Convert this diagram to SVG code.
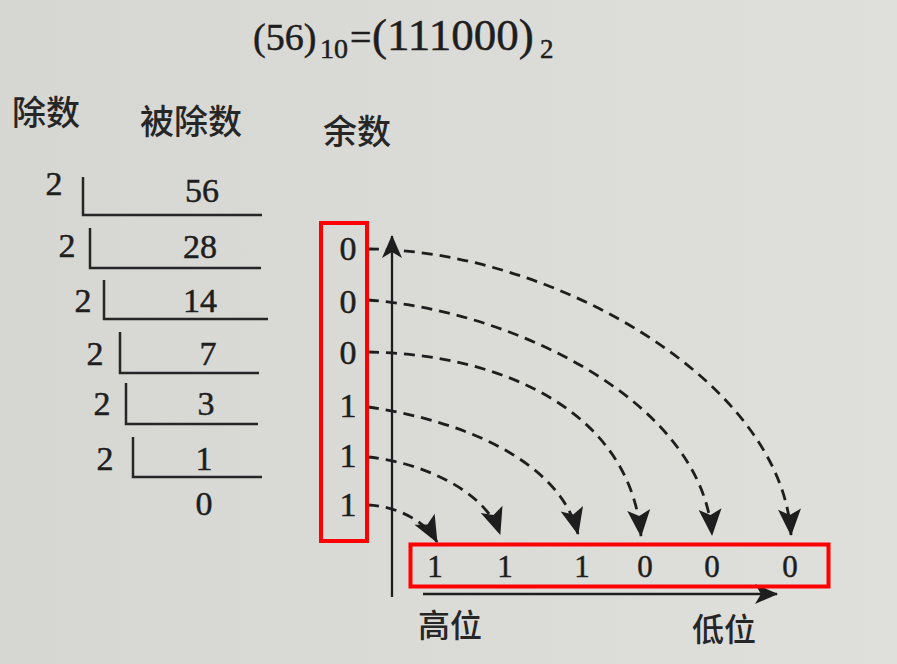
<svg xmlns="http://www.w3.org/2000/svg" width="897" height="664" viewBox="0 0 897 664">
<defs>
<linearGradient id="paper" x1="0" y1="0" x2="1" y2="0">
<stop offset="0" stop-color="#d6d6d2"/>
<stop offset="1" stop-color="#dfdfdb"/>
</linearGradient>
<marker id="barb" viewBox="-30 -14 32 28" refX="0" refY="0" markerWidth="32" markerHeight="28" markerUnits="userSpaceOnUse" orient="auto">
<path d="M1,0 L-26,-11.5 L-20,0 L-26,11.5 Z" fill="#1e1e1e"/>
</marker>
<marker id="axis" viewBox="-26 -12 28 24" refX="0" refY="0" markerWidth="28" markerHeight="24" markerUnits="userSpaceOnUse" orient="auto">
<path d="M1,0 L-22,-10 L-16,0 L-22,10 Z" fill="#1e1e1e"/>
</marker>
</defs>
<style>
.num{font-family:"Liberation Serif","Times New Roman",serif;fill:#1e1e1e;stroke:#1e1e1e;stroke-width:0.5;}
.cjk{font-family:"Noto Sans CJK SC","Noto Sans",sans-serif;fill:#262626;font-weight:500;}
.d{font-size:34px;text-anchor:middle;}
.br{fill:none;stroke:#262626;stroke-width:2.5;}
.dash{fill:none;stroke:#1e1e1e;stroke-width:2.8;stroke-dasharray:11 7;marker-end:url(#barb);}
.ax{fill:none;stroke:#1e1e1e;stroke-width:2.3;marker-end:url(#axis);}
.red{fill:none;stroke:#ff0000;stroke-width:4;}
</style>
<rect x="0" y="0" width="897" height="664" fill="url(#paper)"/>

<g id="title" class="num">
<text x="253" y="50" font-size="38">(56)</text>
<text x="320" y="58" font-size="28">10</text>
<text x="350" y="50" font-size="38">=</text>
<text x="372" y="50" font-size="45">(111000)</text>
<text x="540" y="58" font-size="27">2</text>
</g>

<g id="headers" class="cjk" font-size="34">
<text id="h-divisor" x="12" y="125">除数</text>
<text id="h-dividend" x="140" y="134">被除数</text>
<text id="h-remainder" x="323" y="144">余数</text>
</g>

<g id="division" class="num">
<g id="row1">
<text class="d" x="54" y="195">2</text>
<path class="br" d="M83,177 V215 H262"/>
<text class="d" x="202" y="202">56</text>
</g>
<g id="row2">
<text class="d" x="67" y="257">2</text>
<path class="br" d="M90,228 V268 H261"/>
<text class="d" x="200" y="258">28</text>
</g>
<g id="row3">
<text class="d" x="83" y="312">2</text>
<path class="br" d="M104,280 V319 H268"/>
<text class="d" x="200" y="312">14</text>
</g>
<g id="row4">
<text class="d" x="95" y="365">2</text>
<path class="br" d="M120,332 V373 H259"/>
<text class="d" x="208" y="365">7</text>
</g>
<g id="row5">
<text class="d" x="102" y="415">2</text>
<path class="br" d="M126,383 V424 H258"/>
<text class="d" x="206" y="415">3</text>
</g>
<g id="row6">
<text class="d" x="105" y="470">2</text>
<path class="br" d="M133,437 V477 H262"/>
<text class="d" x="204" y="470">1</text>
</g>
<text id="quotient-final" class="d" x="204" y="515">0</text>
</g>

<g id="remainders" class="num">
<text class="d" x="348" y="260">0</text>
<text class="d" x="348" y="313">0</text>
<text class="d" x="348" y="364">0</text>
<text class="d" x="348" y="417">1</text>
<text class="d" x="348" y="467">1</text>
<text class="d" x="348" y="516">1</text>
</g>

<g id="axes">
<path class="ax" d="M392,597 V236"/>
<path class="ax" d="M423,594 H777"/>
</g>

<g id="connectors">
<path class="dash" d="M368,249 C550,250 782,380 791,535"/>
<path class="dash" d="M368,300 C510,310 702,400 712,535"/>
<path class="dash" d="M368,352 C500,354 630,410 641,536"/>
<path class="dash" d="M368,407 C460,420 560,460 578,534"/>
<path class="dash" d="M368,457 C420,462 485,490 500,534"/>
<path class="dash" d="M368,505 C395,506 425,520 437,542"/>
</g>

<g id="result" class="num" font-size="31" text-anchor="middle">
<text x="435" y="577">1</text>
<text x="505" y="577">1</text>
<text x="582" y="577">1</text>
<text x="645" y="577">0</text>
<text x="712" y="577">0</text>
<text x="790" y="577">0</text>
</g>

<g id="axis-labels" class="cjk" font-size="32">
<text id="high" x="418" y="637">高位</text>
<text id="low" x="692" y="641">低位</text>
</g>

<g id="highlights">
<rect class="red" x="321" y="223" width="46" height="318"/>
<rect class="red" x="410.5" y="544.5" width="418" height="42" stroke-width="3.5"/>
</g>
</svg>
